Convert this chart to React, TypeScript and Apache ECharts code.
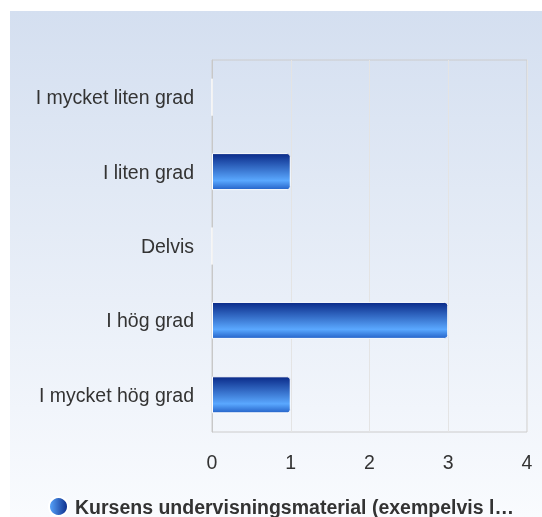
import React, { useEffect, useRef } from "react";
import * as echarts from "echarts";

const categories = ["I mycket liten grad", "I liten grad", "Delvis", "I hög grad", "I mycket hög grad"];
const values = [0, 1, 0, 3, 1];
const seriesName = "Kursens undervisningsmaterial (exempelvis l…";
const xTicks = [0, 1, 2, 3, 4];

export default function App() {
  const ref = useRef<HTMLDivElement>(null);
  useEffect(() => {
    if (!ref.current) return;
    const chart = echarts.init(ref.current, undefined, { renderer: "svg" });
    const font = "'Liberation Sans', Arial, sans-serif";
    chart.setOption({
      animation: false,
      textStyle: { fontFamily: font },
      graphic: [
        {
          type: "rect",
          z: -10,
          silent: true,
          shape: { x: 10, y: 11, width: 532, height: 506 },
          style: {
            fill: new echarts.graphic.LinearGradient(0, 0, 0, 1, [
              { offset: 0, color: "#d4dff0" },
              { offset: 1, color: "#f9fbfe" },
            ]),
          },
        },
      ],
      grid: {
        left: 212,
        right: 15,
        top: 60,
        bottom: 85,
        show: true,
        borderColor: "#cccccc",
        borderWidth: 1,
        backgroundColor: "transparent",
      },
      legend: {
        left: 43,
        top: 491,
        icon: "circle",
        itemWidth: 19,
        itemHeight: 19,
        itemGap: 10,
        textStyle: { fontSize: 19.5, fontWeight: "bold", color: "#333333", fontFamily: font, padding: [0, 0, 0, 2] },
        data: [
          {
            name: seriesName,
            itemStyle: {
              color: new echarts.graphic.LinearGradient(0, 0, 1, 0, [
                { offset: 0, color: "#5aa8ff" },
                { offset: 1, color: "#0a2a88" },
              ]),
            },
          },
        ],
      },
      xAxis: {
        type: "value",
        min: xTicks[0],
        max: xTicks[xTicks.length - 1],
        interval: 1,
        axisLine: { show: false },
        axisTick: { show: false },
        axisLabel: { fontSize: 19.5, color: "#333333", margin: 20, fontFamily: font },
        splitLine: { show: true, lineStyle: { color: "#e4e4e4", width: 1 } },
      },
      yAxis: {
        type: "category",
        data: categories,
        inverse: true,
        axisLine: { show: true, lineStyle: { color: "#c8c8c8", width: 1 } },
        axisTick: { show: false },
        axisLabel: { fontSize: 19.5, color: "#333333", margin: 18, fontFamily: font },
        splitLine: { show: false },
      },
      series: [
        {
          name: seriesName,
          type: "bar",
          data: values,
          barWidth: 37,
          itemStyle: {
            color: new echarts.graphic.LinearGradient(0, 0, 0, 1, [
              { offset: 0, color: "#0a2a88" },
              { offset: 0.75, color: "#5aa8ff" },
              { offset: 1, color: "#2563c8" },
            ]),
            borderColor: "#ffffff",
            borderWidth: 1,
            borderRadius: [0, 3, 3, 0],
          },
        },
      ],
    });
    return () => chart.dispose();
  }, []);
  return (
    <div
      ref={ref}
      style={{ position: "fixed", left: 0, top: 0, width: 542, height: 517 }}
    />
  );
}
